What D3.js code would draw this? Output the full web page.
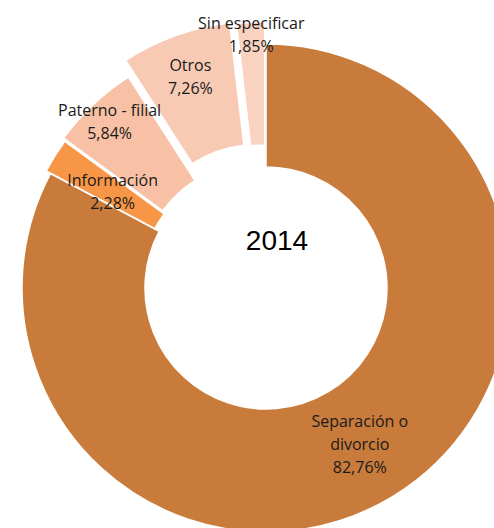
<!DOCTYPE html>
<html>
<head>
<meta charset="utf-8">
<script src="https://cdn.jsdelivr.net/npm/d3@7"></script>
<style>
  body { margin: 0; background: #fff; }
</style>
</head>
<body>
<div id="chart"></div>
<script>
// Data
const categories = ["Separación o divorcio", "Información", "Paterno - filial", "Otros", "Sin especificar"];
const labelLines = [["Separación o", "divorcio"], ["Información"], ["Paterno - filial"], ["Otros"], ["Sin especificar"]];
const values = [82.76, 2.28, 5.84, 7.26, 1.85];
const valueLabels = ["82,76%", "2,28%", "5,84%", "7,26%", "1,85%"];
const yearLabel = "2014";

// Layout
const width = 494, height = 528;
const cx = 266, cy = 288;
const innerR = 121, outerR = 244;
const colors = ["#C97B3B", "#F79646", "#F8C1A5", "#F8CAB4", "#F9D2C0"];
const explode = [0, 5, 8, 24, 22];
const labelR = [182, 181, 228, 224, 254];
const lineH = 23;

const svg = d3.select("#chart")
    .append("svg")
    .attr("width", width)
    .attr("height", height);

const g = svg.append("g")
    .attr("transform", "translate(" + cx + "," + cy + ")");

const pie = d3.pie().sort(null).value(d => d);
const arcs = pie(values);

const arc = d3.arc()
    .innerRadius(innerR)
    .outerRadius(outerR);

function midAngle(d) { return (d.startAngle + d.endAngle) / 2; }

// Slices
g.selectAll("path.slice")
    .data(arcs)
    .enter().append("path")
    .attr("class", "slice")
    .attr("d", arc)
    .attr("fill", (d, i) => colors[i])
    .attr("stroke", "#fff")
    .attr("stroke-width", 1.5)
    .attr("transform", (d, i) => {
        const a = midAngle(d);
        return "translate(" + (Math.sin(a) * explode[i]) + "," + (-Math.cos(a) * explode[i]) + ")";
    });

// Labels
const labels = g.selectAll("text.lbl")
    .data(arcs)
    .enter().append("text")
    .attr("class", "lbl")
    .attr("text-anchor", "middle")
    .style("font-family", "'Open Sans', sans-serif")
    .style("font-size", "16px")
    .attr("fill", "#1a1a1a");

labels.each(function(d, i) {
    const a = midAngle(d);
    const x = Math.sin(a) * labelR[i];
    const y = -Math.cos(a) * labelR[i];
    const lines = labelLines[i].concat([valueLabels[i]]);
    const y0 = y - (lines.length - 1) * lineH / 2;
    const t = d3.select(this);
    lines.forEach((s, k) => {
        t.append("tspan")
            .attr("x", x)
            .attr("y", y0 + k * lineH)
            .attr("dy", "0.35em")
            .text(s);
    });
});

// Center year
g.append("text")
    .attr("x", 11)
    .attr("y", -38)
    .attr("text-anchor", "middle")
    .style("font-family", "'Liberation Sans', Arial, sans-serif")
    .style("font-size", "28px")
    .attr("fill", "#000")
    .text(yearLabel);
</script>
</body>
</html>
